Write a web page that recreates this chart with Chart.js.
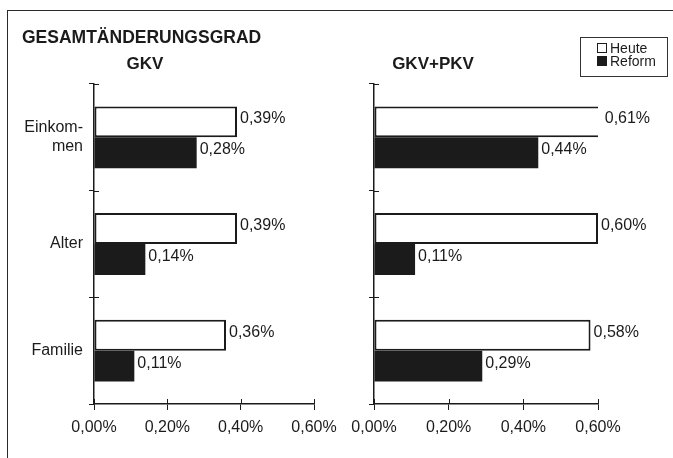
<!DOCTYPE html>
<html>
<head>
<meta charset="utf-8">
<script src="https://cdn.jsdelivr.net/npm/chart.js@4.4.0/dist/chart.umd.min.js"></script>
<style>
  body { margin: 0; background: #fff; }
  #wrap { position: relative; width: 673px; height: 458px; overflow: hidden; font-family: "Liberation Sans", Arial, sans-serif; color: #1b1b1b; }
  #wrap canvas { position: absolute; left: 0; top: 0; }
  .rahmen { position: absolute; left: 7px; top: 10px; width: 700px; height: 500px; border-top: 1.5px solid #2a2a2a; border-left: 1.5px solid #2a2a2a; }
  .titel { position: absolute; font-weight: bold; white-space: nowrap; line-height: 1; }
  .legende { position: absolute; left: 580px; top: 37px; width: 88px; height: 40px; border: 1px solid #333; box-sizing: border-box; }
  .leg-item { position: absolute; left: 16px; font-size: 14px; line-height: 14px; white-space: nowrap; }
  .box { display: inline-block; width: 8px; height: 8px; border: 1.5px solid #1b1b1b; margin-right: 3px; vertical-align: 0; }
</style>
</head>
<body>
<div id="wrap">
  <div class="rahmen"></div>
  <canvas id="chartGKV" width="673" height="458"></canvas>
  <canvas id="chartGesamt" width="673" height="458"></canvas>
  <div class="titel" style="left:22px;top:29px;font-size:17.5px;">GESAMTÄNDERUNGSGRAD</div>
  <div class="titel" style="left:145px;top:55px;font-size:17px;transform:translateX(-50%);">GKV</div>
  <div class="titel" style="left:433px;top:55px;font-size:17px;transform:translateX(-50%);">GKV+PKV</div>
  <div class="legende">
    <div class="leg-item" style="top:3px;"><span class="box" style="background:#fff;"></span>Heute</div>
    <div class="leg-item" style="top:16px;"><span class="box" style="background:#1b1b1b;"></span>Reform</div>
  </div>
</div>
<script>
// Daten
const kategorien = [['Einkom-', 'men'], 'Alter', 'Familie'];
const gkvHeute = [0.39, 0.39, 0.36];
const gkvReform = [0.28, 0.14, 0.11];
const gesamtHeute = [0.61, 0.60, 0.58];
const gesamtReform = [0.44, 0.11, 0.29];
const xMin = 0;
const xMax = 0.6;
const xSchritt = 0.2;

const schrift = '"Liberation Sans", Arial, sans-serif';
const farbe = '#1b1b1b';

function fmt(v) {
    return v.toFixed(2).replace('.', ',') + '%';
}

// Werte rechts neben den Balken
const wertLabels = {
    id: 'wertLabels',
    afterDatasetsDraw(chart) {
        const ctx = chart.ctx;
        ctx.save();
        ctx.font = '16px ' + schrift;
        ctx.fillStyle = farbe;
        ctx.textBaseline = 'middle';
        chart.data.datasets.forEach((ds, i) => {
            chart.getDatasetMeta(i).data.forEach((bar, j) => {
                ctx.fillText(fmt(ds.data[j]), bar.x + 3, bar.y - 3);
            });
        });
        ctx.restore();
    }
};

// Teilstriche, die ins Diagramm hineinragen (Kreuz-Optik)
const kreuzTicks = {
    id: 'kreuzTicks',
    afterDraw(chart) {
        const { ctx, chartArea, scales } = chart;
        ctx.save();
        ctx.strokeStyle = farbe;
        ctx.lineWidth = 1;
        ctx.beginPath();
        scales.x.ticks.forEach((t, i) => {
            const px = Math.round(scales.x.getPixelForTick(i)) + 0.5;
            ctx.moveTo(px, chartArea.bottom);
            ctx.lineTo(px, chartArea.bottom - 5);
        });
        for (let i = 0; i < scales.y.ticks.length; i++) {
            const py = Math.round(scales.y.getPixelForValue(i - 0.5)) + 0.5;
            ctx.moveTo(chartArea.left, py);
            ctx.lineTo(chartArea.left + 5, py);
        }
        ctx.stroke();
        ctx.restore();
    }
};

function baueChart(id, heute, reform, yBreite, rechts, mitLabels) {
    return new Chart(document.getElementById(id), {
        type: 'bar',
        data: {
            labels: kategorien,
            datasets: [
                {
                    label: 'Heute',
                    data: heute,
                    backgroundColor: '#ffffff',
                    borderColor: farbe,
                    borderWidth: 2,
                    borderSkipped: false
                },
                {
                    label: 'Reform',
                    data: reform,
                    backgroundColor: farbe,
                    borderColor: farbe,
                    borderWidth: 0
                }
            ]
        },
        options: {
            indexAxis: 'y',
            responsive: false,
            animation: false,
            categoryPercentage: 0.58,
            barPercentage: 1,
            layout: {
                padding: { left: 0, right: rechts, top: 84, bottom: 14 }
            },
            scales: {
                x: {
                    min: xMin,
                    max: xMax,
                    afterFit: (s) => { s.height = 40; },
                    ticks: {
                        stepSize: xSchritt,
                        padding: 8,
                        color: farbe,
                        font: { family: schrift, size: 16 },
                        callback: (v) => fmt(v)
                    },
                    grid: { drawOnChartArea: false, tickLength: 6, color: farbe },
                    border: { color: farbe, width: 1.5 }
                },
                y: {
                    afterFit: (s) => { s.width = yBreite; },
                    ticks: {
                        display: mitLabels,
                        padding: 6,
                        color: farbe,
                        font: { family: schrift, size: 16 }
                    },
                    grid: { drawOnChartArea: false, tickLength: 5, color: farbe },
                    border: { color: farbe, width: 1.5 }
                }
            },
            plugins: {
                legend: { display: false },
                tooltip: { enabled: false }
            }
        },
        plugins: [wertLabels, kreuzTicks]
    });
}

baueChart('chartGKV', gkvHeute, gkvReform, 94, 359, true);
baueChart('chartGesamt', gesamtHeute, gesamtReform, 374, 75, false);
</script>
</body>
</html>
